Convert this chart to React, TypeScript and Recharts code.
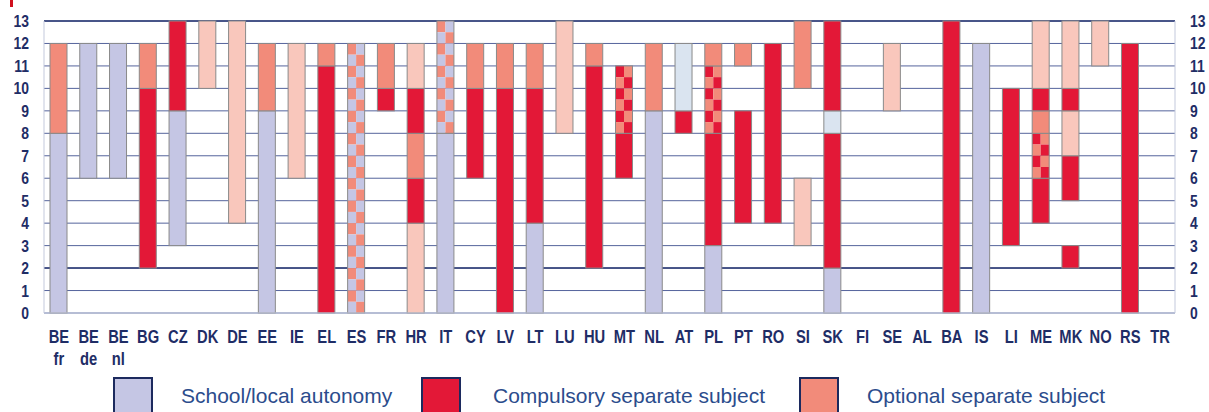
import React from 'react';
import { BarChart, Bar, XAxis, YAxis, CartesianGrid } from 'recharts';

type Seg = [string, number, number];

const countries = [
  'BE fr', 'BE de', 'BE nl', 'BG', 'CZ', 'DK', 'DE', 'EE', 'IE', 'EL', 'ES', 'FR', 'HR', 'IT',
  'CY', 'LV', 'LT', 'LU', 'HU', 'MT', 'NL', 'AT', 'PL', 'PT', 'RO', 'SI', 'SK', 'FI', 'SE',
  'AL', 'BA', 'IS', 'LI', 'ME', 'MK', 'NO', 'RS', 'TR',
];

const yTicks = [0, 1, 2, 3, 4, 5, 6, 7, 8, 9, 10, 11, 12, 13];
const strongLines = [2, 13];

// [country, from grade, to grade]
const autonomy: Seg[] = [
  ['BE fr', 0, 8], ['BE de', 6, 12], ['BE nl', 6, 12], ['CZ', 3, 9], ['EE', 0, 9], ['IT', 0, 8],
  ['LT', 0, 4], ['NL', 0, 9], ['PL', 0, 3], ['SK', 0, 2], ['IS', 0, 12],
];
const compulsory: Seg[] = [
  ['BG', 2, 10], ['CZ', 9, 13], ['EL', 0, 11], ['FR', 9, 10], ['HR', 4, 6], ['HR', 8, 10],
  ['CY', 6, 10], ['LV', 0, 10], ['LT', 4, 10], ['HU', 2, 11], ['MT', 6, 8], ['AT', 8, 9],
  ['PL', 3, 8], ['PT', 4, 9], ['RO', 4, 12], ['SK', 2, 8], ['SK', 9, 13], ['BA', 0, 13],
  ['LI', 3, 10], ['ME', 4, 6], ['ME', 9, 10], ['MK', 2, 3], ['MK', 5, 7], ['MK', 9, 10], ['RS', 0, 12],
];
const optional: Seg[] = [
  ['BE fr', 8, 12], ['BG', 10, 12], ['EE', 9, 12], ['EL', 11, 12], ['FR', 10, 12], ['HR', 6, 8],
  ['CY', 10, 12], ['LV', 10, 12], ['LT', 10, 12], ['HU', 11, 12], ['NL', 9, 12], ['PL', 11, 12],
  ['PT', 11, 12], ['SI', 10, 13], ['ME', 8, 9],
];
const optionalLight: Seg[] = [
  ['DK', 10, 13], ['DE', 4, 13], ['IE', 6, 12], ['HR', 0, 4], ['HR', 10, 12], ['LU', 8, 13],
  ['SI', 3, 6], ['SE', 9, 12], ['ME', 10, 13], ['MK', 7, 9], ['MK', 10, 13], ['NO', 11, 13],
];
const otherBlue: Seg[] = [['AT', 9, 12], ['SK', 8, 9]];
const mixAutonomyOptional: Seg[] = [['ES', 0, 12], ['IT', 8, 13]];
const mixCompulsoryOptional: Seg[] = [['MT', 8, 11], ['PL', 8, 11], ['ME', 6, 8]];

const COLORS: Record<string, string> = {
  A: '#c5c6e4',
  C: '#e31837',
  O: '#f28b7a',
  P: '#f9c7bc',
  L: '#dae4f0',
};

const groups: [string, Seg[]][] = [
  ['A', autonomy], ['C', compulsory], ['O', optional], ['P', optionalLight],
  ['L', otherBlue], ['XA', mixAutonomyOptional], ['XC', mixCompulsoryOptional],
];

// build stacked layers, blanks fill the gaps
const rows: any[] = countries.map((name) => ({ name }));
let layerCount = 0;
countries.forEach((name, ci) => {
  const segs: [number, number, string][] = [];
  groups.forEach(([t, list]) => list.forEach(([c, a, b]) => { if (c === name) segs.push([a, b, t]); }));
  segs.sort((p, q) => p[0] - q[0]);
  let cur = 0;
  let k = 0;
  segs.forEach(([a, b, t]) => {
    if (a > cur) { rows[ci]['s' + k] = a - cur; rows[ci]['t' + k] = 'blank'; k++; }
    rows[ci]['s' + k] = b - a; rows[ci]['t' + k] = t; k++;
    cur = b;
  });
  layerCount = Math.max(layerCount, k);
});
const layers = Array.from({ length: layerCount }, (_, i) => i);

const FONT = "'Liberation Sans', Arial, sans-serif";
const NAVY = '#1f2d66';

const Segment = (props: any) => {
  const { x, y, width, height, payload, layer } = props;
  const t = payload['t' + layer];
  const v = payload['s' + layer];
  if (!t || t === 'blank' || !height) return null;
  if (t === 'XA' || t === 'XC') {
    const first = t === 'XC' ? COLORS.C : COLORS.O;
    const second = t === 'XC' ? COLORS.O : COLORS.A;
    const n = Math.round(v * 2);
    const ch = height / n;
    const cw = width / 2;
    const cells = [];
    for (let r = 0; r < n; r++) {
      for (let c = 0; c < 2; c++) {
        cells.push(
          <rect key={r + '-' + c} x={x + c * cw} y={y + r * ch} width={cw} height={ch}
            fill={(r + c) % 2 === 0 ? first : second} />
        );
      }
    }
    return (
      <g>
        {cells}
        <rect x={x} y={y} width={width} height={height} fill="none" stroke="#8a8a8a" strokeWidth={1} />
      </g>
    );
  }
  return <rect x={x} y={y} width={width} height={height} fill={COLORS[t]} stroke="#8a8a8a" strokeWidth={1} />;
};

// narrow bold look: squeeze the text horizontally
const Narrow = ({ x, y, anchor, size = 17, children }: any) => (
  <text transform={`translate(${x},${y}) scale(0.82,1)`} textAnchor={anchor} fontFamily={FONT}
    fontWeight="bold" fontSize={size} fill={NAVY}>{children}</text>
);

const XTick = (props: any) => {
  const { x, payload } = props;
  const parts = String(payload.value).split(' ');
  return (
    <g>
      {parts.map((p, i) => (
        <Narrow key={i} x={x} y={343 + i * 22} size={18} anchor="middle">{p}</Narrow>
      ))}
    </g>
  );
};

// same tick value printed on both sides of the plot
const YTick = (props: any) => (
  <g>
    <Narrow x={29} y={props.y + 6} anchor="end">{props.payload.value}</Narrow>
    <Narrow x={1190} y={props.y + 6} anchor="start">{props.payload.value}</Narrow>
  </g>
);

const legendItems = [
  { label: 'School/local autonomy', color: COLORS.A, box: 113, text: 181 },
  { label: 'Compulsory separate subject', color: COLORS.C, box: 421, text: 493 },
  { label: 'Optional separate subject', color: COLORS.O, box: 799, text: 867 },
];

export default function App() {
  return (
    <div style={{ position: 'absolute', left: 0, top: 0, width: 1209, height: 412, overflow: 'hidden', background: '#fff' }}>
      <div style={{ position: 'absolute', left: 10, top: 0, width: 3, height: 7, background: '#d0101e' }} />
      <BarChart width={1209} height={412} data={rows} barSize={17}
        margin={{ top: 21, right: 34, left: 14, bottom: 0 }}>
        <CartesianGrid vertical={false} stroke="#55649c" strokeWidth={1} />
        <CartesianGrid vertical={false} horizontalValues={strongLines} stroke="#283772" strokeWidth={1.5} />
        <CartesianGrid horizontal={false} stroke="#c3c9dc"
          verticalCoordinatesGenerator={(p: any) => [p.offset.left, p.offset.left + p.offset.width]} />
        <XAxis dataKey="name" interval={0} height={99} tickLine={false} axisLine={{ stroke: '#c3c9dc' }}
          tick={<XTick />} />
        <YAxis domain={[0, 13]} ticks={yTicks} interval={0} width={30} axisLine={false}
          tickLine={false} tick={<YTick />} />
        {layers.map((i) => (
          <Bar key={i} dataKey={'s' + i} stackId="a" isAnimationActive={false}
            shape={(p: any) => <Segment {...p} layer={i} />} />
        ))}
      </BarChart>
      {legendItems.map((it) => (
        <React.Fragment key={it.label}>
          <div style={{
            position: 'absolute', left: it.box, top: 377, width: 36, height: 40,
            background: it.color, border: '2px solid #1c2a5e',
          }} />
          <div style={{
            position: 'absolute', left: it.text, top: 384, fontFamily: FONT,
            fontSize: 21, color: '#2b4c8c', whiteSpace: 'nowrap', lineHeight: '24px',
          }}>{it.label}</div>
        </React.Fragment>
      ))}
    </div>
  );
}
